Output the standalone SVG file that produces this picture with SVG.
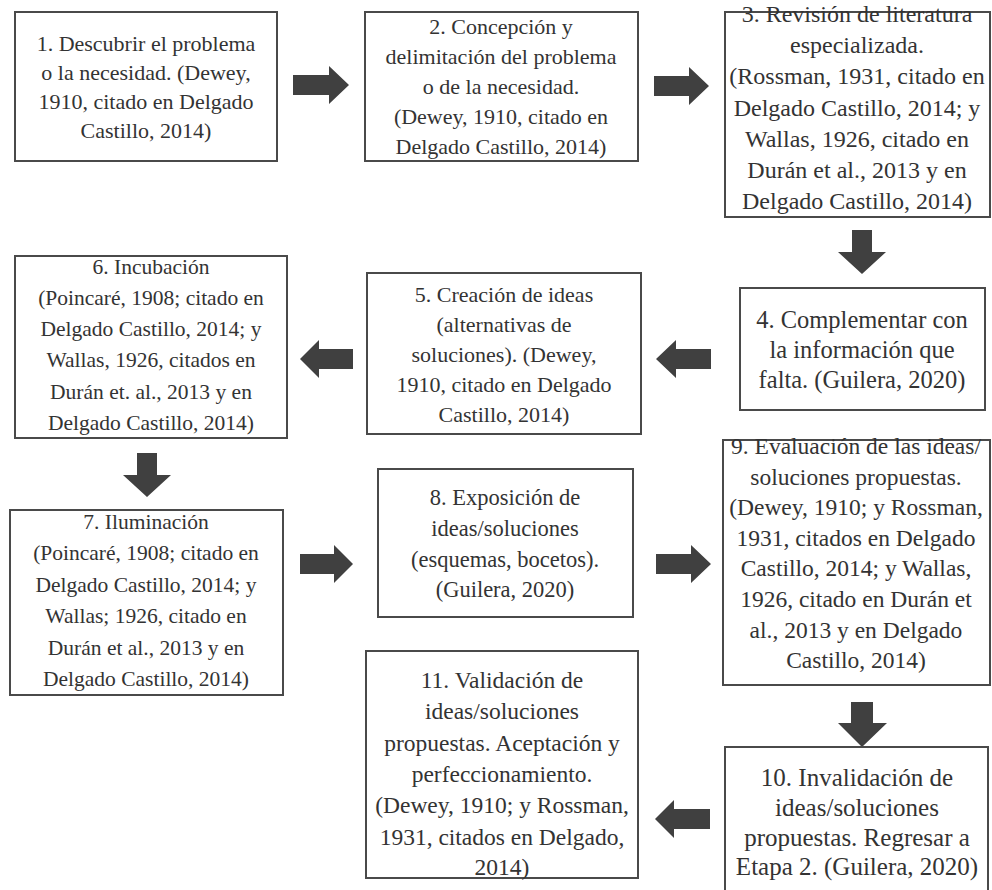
<svg xmlns="http://www.w3.org/2000/svg" width="992" height="890" viewBox="0 0 992 890">
<style>
.box{fill:#fff;stroke:#4a4a4a;stroke-width:2}
.arr{fill:#404040}
text{font-family:"Liberation Serif","Times New Roman",serif;fill:#333;text-anchor:middle}
</style>
<rect width="992" height="890" fill="#fff"/>
<g id="connectors">
<path class="arr" d="M293,75 H329 V66 L349,85 L329,104 V95 H293 Z"/>
<path class="arr" d="M654,76 H689 V67 L709,86 L689,105 V96 H654 Z"/>
<path class="arr" d="M852,230 H872 V252 H886 L862,274 L838,252 H852 Z"/>
<path class="arr" d="M711,349 H676 V340 L656,359 L676,378 V369 H711 Z"/>
<path class="arr" d="M353,349 H319 V340 L300,359 L319,378 V369 H353 Z"/>
<path class="arr" d="M137,453 H157 V475 H171 L147,497 L123,475 H137 Z"/>
<path class="arr" d="M300,554 H334 V545 L353,564 L334,583 V574 H300 Z"/>
<path class="arr" d="M656,554 H691 V545 L711,564 L691,583 V574 H656 Z"/>
<path class="arr" d="M851,702 H873 V723 H887 L862,747 L838,723 H851 Z"/>
<path class="arr" d="M710,809 H674 V800 L655,819 L674,838 V829 H710 Z"/>
</g>
<g id="n1">
<rect class="box" x="15" y="12" width="262" height="149"/>
<text font-size="22"><tspan x="146" y="51">1. Descubrir el problema</tspan><tspan x="146" y="80">o la necesidad. (Dewey,</tspan><tspan x="146" y="109">1910, citado en Delgado</tspan><tspan x="146" y="138">Castillo, 2014)</tspan></text>
</g>
<g id="n2">
<rect class="box" x="365" y="12" width="273" height="149"/>
<text font-size="22"><tspan x="501" y="34">2. Concepción y</tspan><tspan x="501" y="64">delimitación del problema</tspan><tspan x="501" y="94">o de la necesidad.</tspan><tspan x="501" y="124">(Dewey, 1910, citado en</tspan><tspan x="501" y="154">Delgado Castillo, 2014)</tspan></text>
</g>
<g id="n3">
<rect class="box" x="725" y="12" width="265" height="205"/>
<text font-size="24"><tspan x="857" y="22">3. Revisión de literatura</tspan><tspan x="857" y="53">especializada.</tspan><tspan x="857" y="84">(Rossman, 1931, citado en</tspan><tspan x="857" y="116">Delgado Castillo, 2014; y</tspan><tspan x="857" y="147">Wallas, 1926, citado en</tspan><tspan x="857" y="178">Durán et al., 2013 y en</tspan><tspan x="857" y="209">Delgado Castillo, 2014)</tspan></text>
</g>
<g id="n4">
<rect class="box" x="740" y="288" width="245" height="122"/>
<text font-size="24.5"><tspan x="862" y="328">4. Complementar con</tspan><tspan x="862" y="358">la información que</tspan><tspan x="862" y="388">falta. (Guilera, 2020)</tspan></text>
</g>
<g id="n5">
<rect class="box" x="367" y="273" width="274" height="161"/>
<text font-size="22"><tspan x="504" y="302">5. Creación de ideas</tspan><tspan x="504" y="332">(alternativas de</tspan><tspan x="504" y="362">soluciones). (Dewey,</tspan><tspan x="504" y="392">1910, citado en Delgado</tspan><tspan x="504" y="422">Castillo, 2014)</tspan></text>
</g>
<g id="n6">
<rect class="box" x="15" y="256" width="272" height="182"/>
<text font-size="21.5"><tspan x="151" y="274">6. Incubación</tspan><tspan x="151" y="305">(Poincaré, 1908; citado en</tspan><tspan x="151" y="336">Delgado Castillo, 2014; y</tspan><tspan x="151" y="367">Wallas, 1926, citados en</tspan><tspan x="151" y="399">Durán et. al., 2013 y en</tspan><tspan x="151" y="430">Delgado Castillo, 2014)</tspan></text>
</g>
<g id="n7">
<rect class="box" x="10" y="510" width="273" height="185"/>
<text font-size="21.5"><tspan x="146" y="529">7. Iluminación</tspan><tspan x="146" y="560">(Poincaré, 1908; citado en</tspan><tspan x="146" y="592">Delgado Castillo, 2014; y</tspan><tspan x="146" y="623">Wallas; 1926, citado en</tspan><tspan x="146" y="655">Durán et al., 2013 y en</tspan><tspan x="146" y="686">Delgado Castillo, 2014)</tspan></text>
</g>
<g id="n8">
<rect class="box" x="378" y="469" width="255" height="148"/>
<text font-size="22.5"><tspan x="505" y="505">8. Exposición de</tspan><tspan x="505" y="536">ideas/soluciones</tspan><tspan x="505" y="567">(esquemas, bocetos).</tspan><tspan x="505" y="597">(Guilera, 2020)</tspan></text>
</g>
<g id="n9">
<rect class="box" x="723" y="440" width="267" height="245"/>
<text font-size="23.5"><tspan x="856" y="454">9. Evaluación de las ideas/</tspan><tspan x="856" y="485">soluciones propuestas.</tspan><tspan x="856" y="515">(Dewey, 1910; y Rossman,</tspan><tspan x="856" y="546">1931, citados en Delgado</tspan><tspan x="856" y="576">Castillo, 2014; y Wallas,</tspan><tspan x="856" y="607">1926, citado en Durán et</tspan><tspan x="856" y="638">al., 2013 y en Delgado</tspan><tspan x="856" y="668">Castillo, 2014)</tspan></text>
</g>
<g id="n10">
<rect class="box" x="725" y="747" width="263" height="160"/>
<text font-size="25"><tspan x="857" y="786">10. Invalidación de</tspan><tspan x="857" y="816">ideas/soluciones</tspan><tspan x="857" y="846">propuestas. Regresar a</tspan><tspan x="857" y="875">Etapa 2. (Guilera, 2020)</tspan></text>
</g>
<g id="n11">
<rect class="box" x="366" y="651" width="272" height="227"/>
<text font-size="23.5"><tspan x="502" y="688">11. Validación de</tspan><tspan x="502" y="719">ideas/soluciones</tspan><tspan x="502" y="751">propuestas. Aceptación y</tspan><tspan x="502" y="782">perfeccionamiento.</tspan><tspan x="502" y="813">(Dewey, 1910; y Rossman,</tspan><tspan x="502" y="845">1931, citados en Delgado,</tspan><tspan x="502" y="875">2014)</tspan></text>
</g>
</svg>
